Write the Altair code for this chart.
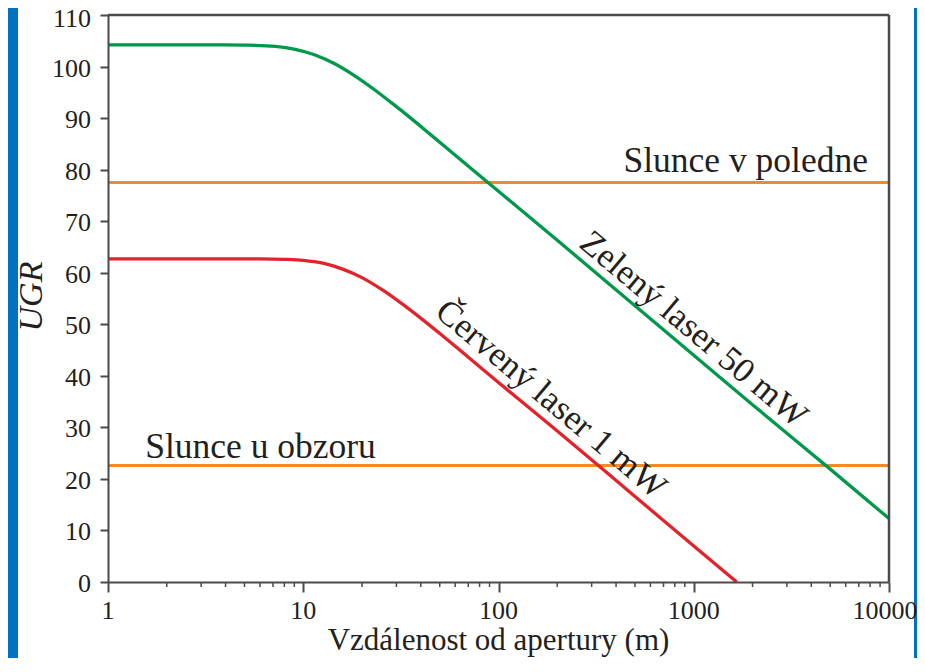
import altair as alt
import pandas as pd

# ---- data ----
dist_green = [1, 4, 5, 7.2, 9.1, 11.5, 14.5, 18.2, 22.9, 28.8, 36.3, 45.7, 72.4, 100,
              200, 500, 1000, 2000, 5000, 10000]
ugr_green = [104.2, 104.2, 104.15, 103.9, 103.35, 102.25, 100.55, 98.3, 95.65, 92.75,
             89.7, 86.55, 80.2, 75.8, 66.3, 53.6, 44.0, 34.4, 21.9, 12.3]

dist_red = [1, 4, 6, 8, 10, 12.6, 15.8, 20, 25.1, 31.6, 39.8, 50.1, 63.1, 100,
            200, 500, 1000, 1660]
ugr_red = [62.7, 62.7, 62.7, 62.6, 62.4, 61.85, 60.75, 59.05, 56.8, 54.15, 51.25,
           48.2, 45.05, 38.7, 29.3, 16.6, 7.0, 0]

sun_levels = [77.5, 22.6]
sun_labels = ["Slunce v poledne", "Slunce u obzoru"]
sun_label_x = [7800, 1.55]

laser_labels = ["Zelený laser 50 mW", "Červený laser 1 mW"]
laser_label_x = [860, 160]
laser_label_y = [46.1, 32.5]

x_major = [1, 10, 100, 1000, 10000]
x_major_labels = ["1", "10", "100", "1000", "10000"]
x_minor = [2, 3, 4, 5, 6, 7, 8, 9,
           20, 30, 40, 50, 60, 70, 80, 90,
           200, 300, 400, 500, 600, 700, 800, 900,
           2000, 3000, 4000, 5000, 6000, 7000, 8000, 9000]
y_ticks = [0, 10, 20, 30, 40, 50, 60, 70, 80, 90, 100, 110]
y_tick_labels = ["0", "10", "20", "30", "40", "50", "60", "70", "80", "90", "100", "110"]

x_title = "Vzdálenost od apertury (m)"
y_title = "UGR"

# ---- styling ----
W, H = 781, 567
FONT = "Liberation Serif"
TXT = "#231f20"
AX = "#4a4a4a"
GREEN = "#00984a"
RED = "#e3232b"
ORANGE = "#f28a2c"
BLUE = "#0070c0"

xscale = alt.Scale(type="log", domain=[1, 10000], nice=False)
yscale = alt.Scale(domain=[0, 110], nice=False)

df_green = pd.DataFrame({"d": dist_green, "u": ugr_green})
df_red = pd.DataFrame({"d": dist_red, "u": ugr_red})
df_sun = pd.DataFrame({"u": sun_levels, "label": sun_labels, "d": sun_label_x})
df_laser = pd.DataFrame({"d": laser_label_x, "u": laser_label_y, "label": laser_labels})
df_minor = pd.DataFrame({"d": x_minor})
df_xlab = pd.DataFrame({"d": x_major, "label": x_major_labels})
df_ylab = pd.DataFrame({"u": y_ticks, "label": y_tick_labels})
one = pd.DataFrame({"a": [0]})

common = dict(labels=False, title=None, tickColor=AX, tickWidth=2, domainColor=AX,
              domainWidth=2, grid=False, zindex=1)

x_axis = alt.Axis(values=x_major, tickSize=10, **common)
y_axis = alt.Axis(values=y_ticks, tickSize=8, **common)

X = alt.X("d:Q", scale=xscale, axis=x_axis)
Y = alt.Y("u:Q", scale=yscale, axis=y_axis)

panel = alt.Chart(one).mark_rect(color="white").encode(
    x=alt.value(-90), x2=alt.value(W + 25), y=alt.value(-7), y2=alt.value(H + 82))

frame_top = alt.Chart(one).mark_rule(color=AX, strokeWidth=2.5).encode(
    x=alt.value(0), x2=alt.value(W), y=alt.value(0))
frame_right = alt.Chart(one).mark_rule(color=AX, strokeWidth=2.5).encode(
    x=alt.value(W), y=alt.value(0), y2=alt.value(H))

minor = alt.Chart(df_minor).mark_rule(color=AX, strokeWidth=1.5).encode(
    x=X, y=alt.value(H), y2=alt.value(H + 5))

# tick labels and axis titles as serif text
xlab = alt.Chart(df_xlab).mark_text(
    font=FONT, fontSize=26, color=TXT, align="center", baseline="alphabetic",
    dx=alt.expr("datum.d == 10000 ? -4 : 0")
).encode(x=X, y=alt.value(H + 37), text="label:N")
ylab = alt.Chart(df_ylab).mark_text(
    font=FONT, fontSize=26, color=TXT, align="right", baseline="middle",
    dy=alt.expr("datum.u == 110 ? 4 : 2")
).encode(y=Y, x=alt.value(-17), text="label:N")
xtitle = alt.Chart(one).mark_text(
    font=FONT, fontSize=31, color=TXT, align="center", baseline="alphabetic", text=x_title
).encode(x=alt.value(W / 2), y=alt.value(H + 68))
ytitle = alt.Chart(one).mark_text(
    font=FONT, fontSize=34, fontStyle="italic", color=TXT, align="center",
    baseline="middle", angle=270, text=y_title
).encode(x=alt.value(-76), y=alt.value(H / 2 - 2))

sun = alt.Chart(df_sun).mark_rule(color=ORANGE, strokeWidth=3).encode(y=Y)

sun_txt_r = alt.Chart(df_sun.iloc[[0]]).mark_text(
    font=FONT, fontSize=35.5, color=TXT, align="right", baseline="alphabetic", dy=-11
).encode(x=X, y=Y, text="label:N")
sun_txt_l = alt.Chart(df_sun.iloc[[1]]).mark_text(
    font=FONT, fontSize=35.5, color=TXT, align="left", baseline="alphabetic", dy=-8
).encode(x=X, y=Y, text="label:N")

red = alt.Chart(df_red).mark_line(color=RED, strokeWidth=3.3, interpolate="monotone").encode(
    x=X, y=Y)
green = alt.Chart(df_green).mark_line(color=GREEN, strokeWidth=3.3, interpolate="monotone").encode(
    x=X, y=Y)

laser_txt = alt.Chart(df_laser).mark_text(
    font=FONT, fontSize=35, color=TXT, align="center", baseline="alphabetic",
    angle=40, dy=-9
).encode(x=X, y=Y, text="label:N")

chart = alt.layer(
    panel, minor, sun, sun_txt_r, sun_txt_l, red, green, laser_txt,
    xlab, ylab, xtitle, ytitle, frame_top, frame_right
).properties(
    width=W, height=H, background=BLUE, autosize="none",
    padding={"left": 100, "top": 7, "right": 28, "bottom": 76},
).configure_view(
    stroke=None
)

chart.save("out.html", embed_options={"renderer": "svg", "actions": False})
